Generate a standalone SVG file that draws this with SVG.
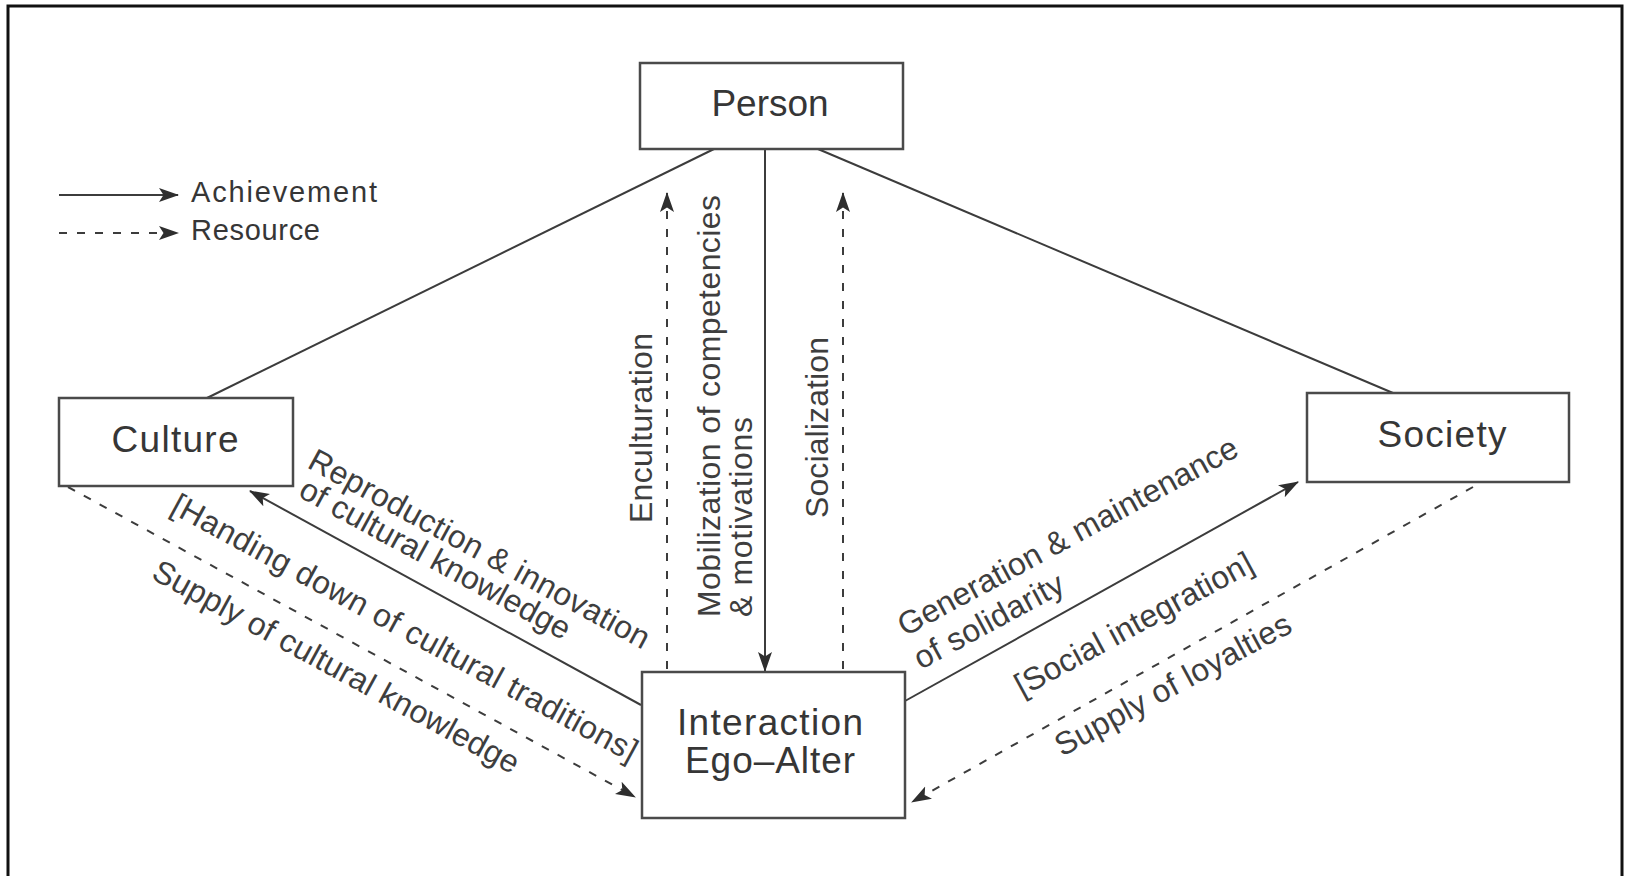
<svg xmlns="http://www.w3.org/2000/svg" width="1626" height="876" viewBox="0 0 1626 876">
  <style>
    .frame { fill: #ffffff; stroke: #111111; stroke-width: 3; }
    .box { fill: #ffffff; stroke: #4a4a4a; stroke-width: 2.5; }
    .node-label { font-family: "Liberation Sans", Arial, sans-serif; font-size: 37px; fill: #363636; text-anchor: middle; }
    .edge { stroke: #3c3c3c; stroke-width: 2; fill: none; }
    .dash { stroke-dasharray: 8 10; }
    .lbl { font-family: "Liberation Sans", Arial, sans-serif; font-size: 32px; fill: #3e3e3e; }
    .legend-text { font-family: "Liberation Sans", Arial, sans-serif; font-size: 29px; fill: #363636; }
  </style>
  <defs>
    <marker id="arrow" markerUnits="userSpaceOnUse" markerWidth="22" markerHeight="16" refX="19" refY="7.5" orient="auto">
      <path d="M0,0.5 L20,7.5 L0,14.5 L4.5,7.5 Z" fill="#2e2e2e"/>
    </marker>
  </defs>

  <!-- outer frame -->
  <rect class="frame" x="8" y="6" width="1614" height="890"/>

  <!-- legend -->
  <g id="legend">
    <line class="edge" x1="59" y1="195" x2="178" y2="195" marker-end="url(#arrow)"/>
    <text class="legend-text" x="191" y="202" textLength="186">Achievement</text>
    <line class="edge dash" x1="59" y1="233" x2="178" y2="233" stroke-dasharray="7 10" marker-end="url(#arrow)"/>
    <text class="legend-text" x="191" y="240" textLength="129">Resource</text>
  </g>

  <!-- connectors -->
  <g id="connectors">
    <!-- plain links from Person -->
    <line class="edge" x1="207" y1="398" x2="714" y2="149"/>
    <line class="edge" x1="818" y1="149" x2="1393" y2="393"/>
    <!-- Person to Interaction (achievement) -->
    <line class="edge" x1="765" y1="150" x2="765" y2="671" marker-end="url(#arrow)"/>
    <!-- Interaction to Person (resources) -->
    <line class="edge dash" x1="667" y1="669" x2="667" y2="193" marker-end="url(#arrow)"/>
    <line class="edge dash" x1="843" y1="669" x2="843" y2="193" marker-end="url(#arrow)"/>
    <!-- Interaction to Culture (achievement) -->
    <line class="edge" x1="641" y1="705" x2="250" y2="491" marker-end="url(#arrow)"/>
    <!-- Culture to Interaction (resource) -->
    <line class="edge dash" x1="68" y1="487" x2="635" y2="797" marker-end="url(#arrow)"/>
    <!-- Interaction to Society (achievement) -->
    <line class="edge" x1="905" y1="701" x2="1298" y2="482" marker-end="url(#arrow)"/>
    <!-- Society to Interaction (resource) -->
    <line class="edge dash" x1="1473" y1="487" x2="912" y2="802" marker-end="url(#arrow)"/>
  </g>

  <!-- connector labels -->
  <g id="edge-labels">
    <text class="lbl" transform="translate(652,523) rotate(-90)" textLength="190">Enculturation</text>
    <text class="lbl" transform="translate(720,617) rotate(-90)" textLength="422">Mobilization of competencies</text>
    <text class="lbl" transform="translate(752,617) rotate(-90)" textLength="200">&amp; motivations</text>
    <text class="lbl" transform="translate(828,518) rotate(-90)" textLength="181">Socialization</text>

    <text class="lbl" transform="translate(306,467) rotate(28.5)" textLength="383">Reproduction &amp; innovation</text>
    <text class="lbl" transform="translate(297,496) rotate(28.5)" textLength="303">of cultural knowledge</text>
    <text class="lbl" transform="translate(169,512) rotate(28.5)" textLength="525">[Handing down of cultural traditions]</text>
    <text class="lbl" transform="translate(150,578) rotate(28.5)" textLength="412">Supply of cultural knowledge</text>

    <text class="lbl" transform="translate(905,637) rotate(-28.5)" textLength="382">Generation &amp; maintenance</text>
    <text class="lbl" transform="translate(921,670) rotate(-28.5)" textLength="166">of solidarity</text>
    <text class="lbl" transform="translate(1022,697) rotate(-28.5)" textLength="266">[Social integration]</text>
    <text class="lbl" transform="translate(1062,757) rotate(-28.5)" textLength="264">Supply of loyalties</text>
  </g>

  <!-- nodes -->
  <g id="person">
    <rect class="box" x="640" y="63" width="263" height="86"/>
    <text class="node-label" x="770" y="116">Person</text>
  </g>
  <g id="culture">
    <rect class="box" x="59" y="398" width="234" height="88"/>
    <text class="node-label" x="175" y="452" textLength="127">Culture</text>
  </g>
  <g id="society">
    <rect class="box" x="1307" y="393" width="262" height="89"/>
    <text class="node-label" x="1442" y="447" textLength="129">Society</text>
  </g>
  <g id="interaction">
    <rect class="box" x="642" y="672" width="263" height="146"/>
    <text class="node-label" x="770" y="735" textLength="186">Interaction</text>
    <text class="node-label" x="770" y="773" textLength="170">Ego–Alter</text>
  </g>
</svg>
